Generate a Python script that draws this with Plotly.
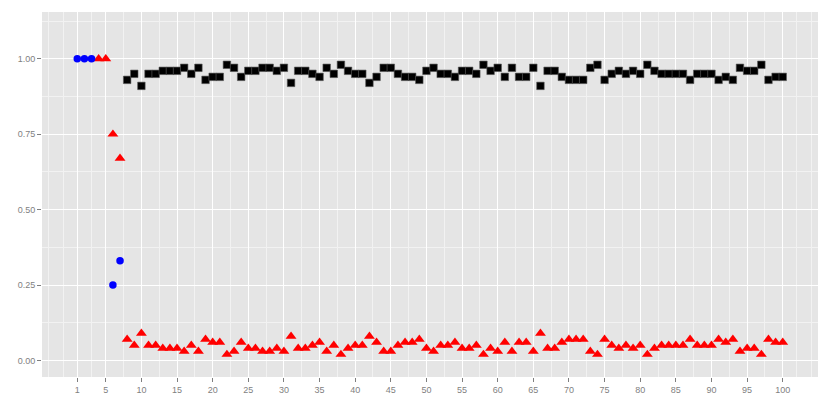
import plotly.graph_objects as go

# Blue circles
blue_x = [1, 2, 3, 6, 7]
blue_y = [1.00, 1.00, 1.00, 0.25, 0.33]

# Red triangles
red_x = list(range(4, 101))
red_y = [1.00, 1.00, 0.75, 0.67,
         0.07, 0.05, 0.09, 0.05, 0.05, 0.04, 0.04, 0.04, 0.03, 0.05,
         0.03, 0.07, 0.06, 0.06, 0.02, 0.03, 0.06, 0.04, 0.04, 0.03,
         0.03, 0.04, 0.03, 0.08, 0.04, 0.04, 0.05, 0.06, 0.03, 0.05,
         0.02, 0.04, 0.05, 0.05, 0.08, 0.06, 0.03, 0.03, 0.05, 0.06,
         0.06, 0.07, 0.04, 0.03, 0.05, 0.05, 0.06, 0.04, 0.04, 0.05,
         0.02, 0.04, 0.03, 0.06, 0.03, 0.06, 0.06, 0.03, 0.09, 0.04,
         0.04, 0.06, 0.07, 0.07, 0.07, 0.03, 0.02, 0.07, 0.05, 0.04,
         0.05, 0.04, 0.05, 0.02, 0.04, 0.05, 0.05, 0.05, 0.05, 0.07,
         0.05, 0.05, 0.05, 0.07, 0.06, 0.07, 0.03, 0.04, 0.04, 0.02,
         0.07, 0.06, 0.06]

# Black squares
black_x = list(range(8, 101))
black_y = [0.93, 0.95, 0.91, 0.95, 0.95, 0.96, 0.96, 0.96, 0.97, 0.95,
           0.97, 0.93, 0.94, 0.94, 0.98, 0.97, 0.94, 0.96, 0.96, 0.97,
           0.97, 0.96, 0.97, 0.92, 0.96, 0.96, 0.95, 0.94, 0.97, 0.95,
           0.98, 0.96, 0.95, 0.95, 0.92, 0.94, 0.97, 0.97, 0.95, 0.94,
           0.94, 0.93, 0.96, 0.97, 0.95, 0.95, 0.94, 0.96, 0.96, 0.95,
           0.98, 0.96, 0.97, 0.94, 0.97, 0.94, 0.94, 0.97, 0.91, 0.96,
           0.96, 0.94, 0.93, 0.93, 0.93, 0.97, 0.98, 0.93, 0.95, 0.96,
           0.95, 0.96, 0.95, 0.98, 0.96, 0.95, 0.95, 0.95, 0.95, 0.93,
           0.95, 0.95, 0.95, 0.93, 0.94, 0.93, 0.97, 0.96, 0.96, 0.98,
           0.93, 0.94, 0.94]

x_ticks = [1] + list(range(5, 101, 5))
x_minor = [-3, -1, 3] + [7.5 + 5 * i for i in range(19)] + [102, 104]
y_ticks = [0, 0.25, 0.5, 0.75, 1.0]
y_labels = ["0.00", "0.25", "0.50", "0.75", "1.00"]
y_minor = [0.125, 0.375, 0.625, 0.875, 1.125]

fig = go.Figure()
fig.add_trace(go.Scatter(x=black_x, y=black_y, mode="markers",
                         marker=dict(symbol="square", size=7.5, color="black",
                                     line=dict(width=0.6, color="#555555"))))
fig.add_trace(go.Scatter(x=red_x, y=red_y, mode="markers",
                         marker=dict(symbol="triangle-up", size=9.5, color="#FF0000",
                                     line=dict(width=0))))
fig.add_trace(go.Scatter(x=blue_x, y=blue_y, mode="markers",
                         marker=dict(symbol="circle", size=7.5, color="#0000FF",
                                     line=dict(width=0))))

axis_common = dict(
    showline=False, zeroline=False, automargin=False,
    ticks="outside", ticklen=4, tickwidth=1, tickcolor="#7F7F7F",
    tickfont=dict(family="Liberation Sans, Arial, sans-serif", size=9, color="#7F7F7F"),
    showgrid=True, gridcolor="#FFFFFF", gridwidth=1.2,
)

# The page body adds an 8px offset, so the figure is sized to fill the rest.
fig.update_layout(
    width=822, height=401,
    margin=dict(l=34, r=12, t=4, b=32),
    paper_bgcolor="white", plot_bgcolor="#E5E5E5",
    showlegend=False,
    xaxis=dict(range=[-3.95, 104.95], tickmode="array", tickvals=x_ticks,
               ticktext=[str(v) for v in x_ticks],
               minor=dict(tickmode="array", tickvals=x_minor, showgrid=True,
                          gridcolor="#F2F2F2", gridwidth=0.6, ticks=""),
               **axis_common),
    yaxis=dict(range=[-0.055, 1.155], tickmode="array", tickvals=y_ticks,
               ticktext=y_labels,
               minor=dict(tickmode="array", tickvals=y_minor, showgrid=True,
                          gridcolor="#F2F2F2", gridwidth=0.6, ticks=""),
               **axis_common),
)

fig.write_html("out.html")
